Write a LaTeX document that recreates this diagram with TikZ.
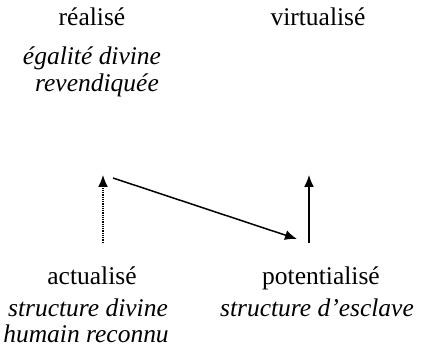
\documentclass[tikz,border=0pt]{standalone}
\usepackage{fontspec}
\setmainfont{Liberation Serif}
\usetikzlibrary{arrows.meta}
\begin{document}
\begin{tikzpicture}[x=1pt,y=1pt,
  lbl/.style={font=\fontsize{25.5}{27}\selectfont, inner sep=0pt, anchor=base},
  ilbl/.style={lbl, font=\fontsize{25.5}{27}\selectfont\itshape},
  conn/.style={line width=1.5pt, -{Latex[length=12pt,width=10pt]}}]
\useasboundingbox (0,0) rectangle (421,359);
% labels (y measured from bottom)
\node[lbl] (real) at (92,333) {réalisé};
\node[lbl] (virt) at (318,333) {virtualisé};
\node[ilbl] (egal1) at (92,294) {égalité divine};
\node[ilbl] (egal2) at (97,267) {revendiquée};
\node[lbl] (act) at (92,74) {actualisé};
\node[lbl] (pot) at (321,74) {potentialisé};
\node[ilbl] (sdiv1) at (88,42) {structure divine};
\node[ilbl] (sdiv2) at (86,16) {humain reconnu};
\node[ilbl] (sesc) at (317,42) {structure d’esclave};
% arrow end points
\coordinate (a1) at (103,116);
\coordinate (a2) at (103,184);
\coordinate (d1) at (113,181);
\coordinate (d2) at (297,120);
\coordinate (p1) at (309,116);
\coordinate (p2) at (309,184);
\draw[conn, line width=1.4pt, dash pattern=on 0.8pt off 1pt] (a1) -- (a2);
\draw[conn] (d1) -- (d2);
\draw[conn] (p1) -- (p2);
\end{tikzpicture}
\end{document}
